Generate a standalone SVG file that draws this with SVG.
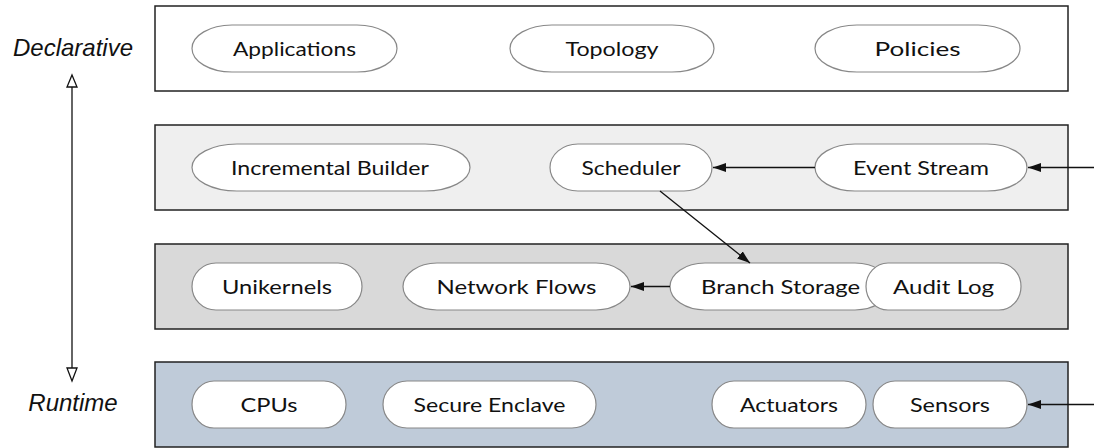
<svg xmlns="http://www.w3.org/2000/svg" width="1094" height="448" viewBox="0 0 1094 448">
<style>
.layer{stroke:#222;stroke-width:1.5}
.pill{fill:#fff;stroke:#888;stroke-width:1.2}
.t{font-family:Lato,"Open Sans","Liberation Sans",sans-serif;font-size:20px;fill:#111;text-anchor:middle}
.side{font-family:"Liberation Sans",Arial,sans-serif;font-style:italic;font-size:24px;fill:#111;text-anchor:middle}
.c{stroke:#111;stroke-width:1.3;fill:none}
.tri{fill:#fff;stroke:#111;stroke-width:1.3}
</style>
<defs>
<marker id="ah" markerUnits="userSpaceOnUse" markerWidth="14" markerHeight="10" refX="13" refY="5" orient="auto">
<path d="M0,0.5 L13,5 L0,9.5 Z" fill="#111"/>
</marker>
</defs>

<g id="layers">
<rect id="layer-declarative" class="layer" x="155" y="6" width="913" height="85" fill="#ffffff"/>
<rect id="layer-control" class="layer" x="155" y="125" width="913" height="85" fill="#efefef"/>
<rect id="layer-storage" class="layer" x="155" y="244" width="913" height="85" fill="#d9d9d9"/>
<rect id="layer-runtime" class="layer" x="155" y="362" width="913" height="85" fill="#bfcbd9"/>
</g>

<g id="axis-labels">
<text class="side" x="73" y="56">Declarative</text>
<text class="side" x="73" y="411">Runtime</text>
</g>

<g id="n-applications"><rect class="pill" x="192" y="25" width="205" height="47" rx="40" ry="23.5"/><text class="t" x="294.5" y="56" textLength="123" lengthAdjust="spacingAndGlyphs">Applications</text></g>
<g id="n-topology"><rect class="pill" x="510" y="25" width="204" height="47" rx="42" ry="23.5"/><text class="t" x="612" y="56" textLength="93" lengthAdjust="spacingAndGlyphs">Topology</text></g>
<g id="n-policies"><rect class="pill" x="815" y="25" width="205" height="47" rx="42" ry="23.5"/><text class="t" x="917.5" y="56" textLength="86" lengthAdjust="spacingAndGlyphs">Policies</text></g>

<g id="n-incremental-builder"><rect class="pill" x="192" y="144" width="278" height="47" rx="45" ry="23.5"/><text class="t" x="330" y="175" textLength="198" lengthAdjust="spacingAndGlyphs">Incremental Builder</text></g>
<g id="n-scheduler"><rect class="pill" x="550" y="144" width="162" height="47" rx="28" ry="23.5"/><text class="t" x="631" y="175" textLength="99" lengthAdjust="spacingAndGlyphs">Scheduler</text></g>
<g id="n-event-stream"><rect class="pill" x="815" y="144" width="212" height="47" rx="40" ry="23.5"/><text class="t" x="921" y="175" textLength="136" lengthAdjust="spacingAndGlyphs">Event Stream</text></g>

<g id="n-unikernels"><rect class="pill" x="192" y="263" width="170" height="47" rx="24" ry="23.5"/><text class="t" x="277" y="294" textLength="110" lengthAdjust="spacingAndGlyphs">Unikernels</text></g>
<g id="n-network-flows"><rect class="pill" x="403" y="263" width="227" height="47" rx="34" ry="23.5"/><text class="t" x="516.5" y="294" textLength="160" lengthAdjust="spacingAndGlyphs">Network Flows</text></g>
<g id="n-branch-storage"><rect class="pill" x="670" y="263" width="220" height="47" rx="35" ry="23.5"/><text class="t" x="780.5" y="294" textLength="159" lengthAdjust="spacingAndGlyphs">Branch Storage</text></g>
<g id="n-audit-log"><rect class="pill" x="866" y="263" width="155" height="47" rx="22" ry="23.5"/><text class="t" x="943.5" y="294" textLength="101" lengthAdjust="spacingAndGlyphs">Audit Log</text></g>

<g id="n-cpus"><rect class="pill" x="192" y="381" width="154" height="47" rx="22" ry="23.5"/><text class="t" x="269" y="412" textLength="57" lengthAdjust="spacingAndGlyphs">CPUs</text></g>
<g id="n-secure-enclave"><rect class="pill" x="383" y="381" width="213" height="47" rx="24" ry="23.5"/><text class="t" x="489.5" y="412" textLength="152" lengthAdjust="spacingAndGlyphs">Secure Enclave</text></g>
<g id="n-actuators"><rect class="pill" x="712" y="381" width="154" height="47" rx="22" ry="23.5"/><text class="t" x="789" y="412" textLength="98" lengthAdjust="spacingAndGlyphs">Actuators</text></g>
<g id="n-sensors"><rect class="pill" x="873" y="381" width="154" height="47" rx="22" ry="23.5"/><text class="t" x="950" y="412" textLength="80" lengthAdjust="spacingAndGlyphs">Sensors</text></g>

<g id="connectors">
<line class="c" x1="72" y1="87" x2="72" y2="368"/>
<polygon class="tri" points="72,75 77,87 67,87"/>
<polygon class="tri" points="72,381 77,368 67,368"/>
<line class="c" x1="1094" y1="167.5" x2="1028" y2="167.5" marker-end="url(#ah)"/>
<line class="c" x1="815" y1="167.5" x2="713" y2="167.5" marker-end="url(#ah)"/>
<line class="c" x1="660" y1="191" x2="750" y2="263" marker-end="url(#ah)"/>
<line class="c" x1="670" y1="286.5" x2="631" y2="286.5" marker-end="url(#ah)"/>
<line class="c" x1="1094" y1="404.5" x2="1028" y2="404.5" marker-end="url(#ah)"/>
</g>
</svg>
